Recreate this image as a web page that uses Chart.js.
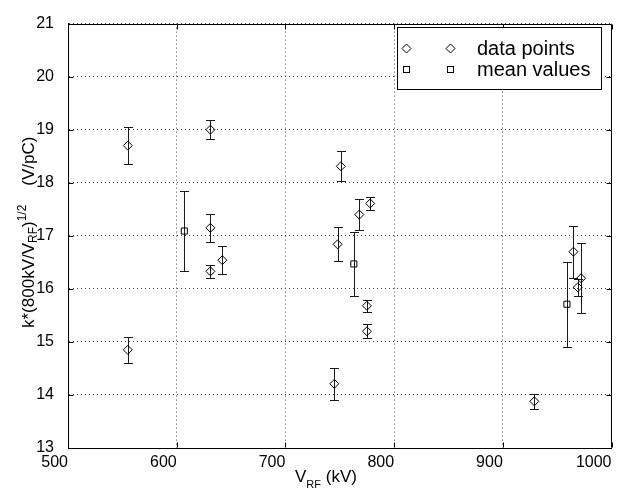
<!DOCTYPE html>
<html>
<head>
<meta charset="utf-8">
<script src="https://cdn.jsdelivr.net/npm/chart.js@4.4.0/dist/chart.umd.min.js"></script>
<style>
  html, body { margin: 0; padding: 0; background: #fff; }
  canvas { display: block; }
</style>
</head>
<body>
<canvas id="chart" width="617" height="489"></canvas>
<script>
// individual measurements (V_RF in kV, normalised k, error)
const pointX = [555, 555, 631, 631, 631, 642, 745, 748, 751, 768, 775, 775, 778, 929, 965, 969, 972];
const pointY = [18.70, 14.85, 19.00, 17.15, 16.33, 16.54, 14.21, 16.84, 18.31, 17.40, 15.68, 15.20, 17.61, 13.88, 16.70, 16.03, 16.20];
const pointErr = [0.35, 0.25, 0.18, 0.27, 0.12, 0.26, 0.30, 0.32, 0.28, 0.30, 0.11, 0.13, 0.12, 0.14, 0.49, 0.16, 0.66];

// group means
const meanX = [607, 763, 959];
const meanY = [17.09, 16.47, 15.71];
const meanErr = [0.76, 0.60, 0.80];

const xTicks = [500, 600, 700, 800, 900, 1000];
const yTicks = [13, 14, 15, 16, 17, 18, 19, 20, 21];
const legendLabels = ["data points", "mean values"];

const FONT = "'Liberation Sans', Arial, Helvetica, sans-serif";
const errors = [pointErr, meanErr];

const errorBars = {
  id: "errorBars",
  beforeDatasetsDraw(chart) {
    const { ctx, chartArea: a, scales: { x, y } } = chart;
    ctx.save();
    ctx.beginPath();
    ctx.rect(a.left, a.top, a.right - a.left, a.bottom - a.top);
    ctx.clip();
    ctx.strokeStyle = "#1a1a1a";
    ctx.lineWidth = 1;
    chart.data.datasets.forEach((ds, d) => {
      ds.data.forEach((p, i) => {
        const e = errors[d][i];
        const px = Math.round(x.getPixelForValue(p.x)) + 0.5;
        const top = Math.round(y.getPixelForValue(p.y + e)) + 0.5;
        const bot = Math.round(y.getPixelForValue(p.y - e)) + 0.5;
        ctx.beginPath();
        ctx.moveTo(px, top); ctx.lineTo(px, bot);
        ctx.moveTo(px - 4.5, top); ctx.lineTo(px + 4.5, top);
        ctx.moveTo(px - 4.5, bot); ctx.lineTo(px + 4.5, bot);
        ctx.stroke();
      });
    });
    ctx.restore();
  }
};

function diamond(ctx, cx, cy, r) {
  ctx.beginPath();
  ctx.moveTo(cx, cy - r); ctx.lineTo(cx + r, cy);
  ctx.lineTo(cx, cy + r); ctx.lineTo(cx - r, cy);
  ctx.closePath(); ctx.stroke();
}
function square(ctx, cx, cy, h) {
  ctx.strokeRect(cx - h, cy - h, 2 * h, 2 * h);
}

const decorations = {
  id: "decorations",
  afterDatasetsDraw(chart) {
    const { ctx, chartArea: a, scales: { x, y } } = chart;
    const L = Math.round(a.left) + 0.5, R = Math.round(a.right) - 0.5;
    const T = Math.round(a.top) + 0.5, B = Math.round(a.bottom) - 0.5;
    ctx.save();
    ctx.strokeStyle = "#000";
    ctx.lineWidth = 1;
    ctx.beginPath();
    ctx.moveTo(L, T); ctx.lineTo(R, T); ctx.lineTo(R, B);
    // inward tick marks
    xTicks.forEach(v => {
      const px = Math.round(x.getPixelForValue(v)) + 0.5;
      ctx.moveTo(px, B); ctx.lineTo(px, B - 5);
      ctx.moveTo(px, T); ctx.lineTo(px, T + 5);
    });
    yTicks.forEach(v => {
      const py = Math.round(y.getPixelForValue(v)) + 0.5;
      ctx.moveTo(L, py); ctx.lineTo(L + 5, py);
      ctx.moveTo(R, py); ctx.lineTo(R - 5, py);
    });
    ctx.stroke();

    // legend
    ctx.fillStyle = "#fff";
    ctx.fillRect(397.5, 27.5, 204, 62);
    ctx.strokeRect(397.5, 27.5, 204, 62);
    diamond(ctx, 406.5, 48.5, 4.5);
    diamond(ctx, 450.5, 48.5, 4.5);
    square(ctx, 406.5, 69.5, 3);
    square(ctx, 450.5, 69.5, 3);
    ctx.fillStyle = "#000";
    ctx.font = "20px " + FONT;
    ctx.textAlign = "left";
    ctx.textBaseline = "alphabetic";
    ctx.fillText(legendLabels[0], 477, 54.5);
    ctx.fillText(legendLabels[1], 477, 76);

    // x axis title: V_RF (kV)
    let cx = 295;
    ctx.font = "17px " + FONT;
    ctx.fillText("V", cx, 482);
    cx += ctx.measureText("V").width;
    ctx.font = "11px " + FONT;
    ctx.fillText("RF", cx, 488);
    cx += ctx.measureText("RF").width;
    ctx.font = "17px " + FONT;
    ctx.fillText(" (kV)", cx, 482);

    // y axis title: k*(800kV/V_RF)^1/2    (V/pC)
    ctx.translate(33.5, 328);
    ctx.rotate(-Math.PI / 2);
    const parts = [
      ["k*(800kV/V", 17, 0],
      ["RF", 12, 3.5],
      [")", 17, 0],
      ["1/2", 12, -8],
      ["    (V/pC)", 17, 0]
    ];
    let tx = 0;
    parts.forEach(([s, size, off]) => {
      ctx.font = size + "px " + FONT;
      ctx.fillText(s, tx, off);
      tx += ctx.measureText(s).width;
    });
    ctx.restore();
  }
};

const gridCommon = { color: "#444", lineWidth: 1, drawTicks: false };
const borderCommon = { display: true, color: "#000", width: 1, dash: [1, 3] };

new Chart(document.getElementById("chart"), {
  type: "scatter",
  data: {
    datasets: [
      {
        label: legendLabels[0],
        data: pointX.map((v, i) => ({ x: v, y: pointY[i] })),
        pointStyle: "rectRot",
        radius: 4.5,
        borderColor: "#000",
        backgroundColor: "rgba(0,0,0,0)",
        borderWidth: 1,
        showLine: false
      },
      {
        label: legendLabels[1],
        data: meanX.map((v, i) => ({ x: v, y: meanY[i] })),
        pointStyle: "rect",
        radius: 4.3,
        borderColor: "#000",
        backgroundColor: "rgba(0,0,0,0)",
        borderWidth: 1,
        showLine: false
      }
    ]
  },
  options: {
    responsive: false,
    animation: false,
    layout: { padding: { top: 16, right: 2, left: 0, bottom: 0 } },
    plugins: {
      legend: { display: false },
      tooltip: { enabled: false }
    },
    scales: {
      x: {
        type: "linear",
        min: 500,
        max: 1000,
        afterBuildTicks: s => { s.ticks = xTicks.map(v => ({ value: v })); },
        afterFit: s => { s.height = 41; },
        grid: gridCommon,
        border: borderCommon,
        ticks: {
          align: "end",
          padding: 5,
          color: "#000",
          font: { family: FONT, size: 16 },
          callback: v => String(v)
        }
      },
      y: {
        type: "linear",
        min: 13,
        max: 21,
        afterBuildTicks: s => { s.ticks = yTicks.map(v => ({ value: v })); },
        afterFit: s => { s.width = 68; },
        grid: gridCommon,
        border: borderCommon,
        ticks: {
          padding: 14,
          color: "#000",
          font: { family: FONT, size: 16 },
          callback: v => String(v)
        }
      }
    }
  },
  plugins: [errorBars, decorations]
});
</script>
</body>
</html>
